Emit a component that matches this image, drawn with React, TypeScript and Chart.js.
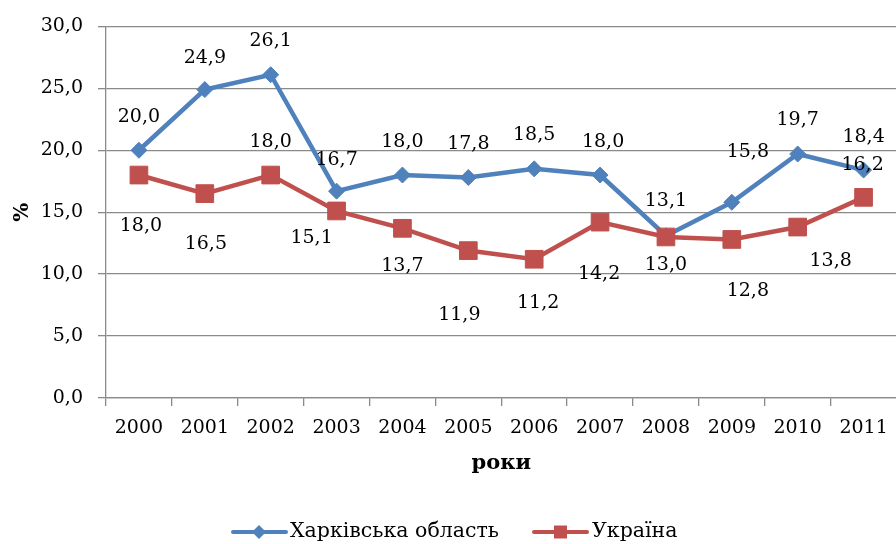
import React, { useEffect, useRef } from 'react';
import { Chart, registerables } from 'chart.js';

Chart.register(...registerables);

// ---- data ----
const years = ['2000', '2001', '2002', '2003', '2004', '2005', '2006', '2007', '2008', '2009', '2010', '2011'];
const kharkivValues = [20.0, 24.9, 26.1, 16.7, 18.0, 17.8, 18.5, 18.0, 13.1, 15.8, 19.7, 18.4];
const ukraineValues = [18.0, 16.5, 18.0, 15.1, 13.7, 11.9, 11.2, 14.2, 13.0, 12.8, 13.8, 16.2];
const seriesNames = ['Харківська область', 'Україна'];
const yMin = 0;
const yMax = 30;
const yStep = 5;
const xTitle = 'роки';
const yTitle = '%';

// ---- label placement (pixel offsets from each point, style only) ----
const kharkivLabelOffsets = [[0, -33], [0, -32], [0, -34], [0, -31], [0, -33], [0, -33], [0, -34], [3, -33], [0, -35], [16, -50], [0, -34], [0, -33]];
const ukraineLabelOffsets = [[2, 51], [1, 50], [0, -33], [-25, 27], [0, 38], [-9, 64], [4, 44], [-1, 52], [0, 28], [16, 52], [33, 34], [-1, -32]];

const FONT = "'DejaVu Serif', serif";
const BLUE = '#4F81BD';
const RED = '#C0504D';
const GRID = '#8a8a8a';

const fmt = (v: number) => v.toFixed(1).replace('.', ',');

const labelPlugin = {
  id: 'pointLabels',
  afterDatasetsDraw(chart: any) {
    const ctx = chart.ctx;
    ctx.save();
    ctx.font = `19px ${FONT}`;
    ctx.fillStyle = '#000';
    ctx.textAlign = 'center';
    ctx.textBaseline = 'middle';
    chart.data.datasets.forEach((ds: any, di: number) => {
      const meta = chart.getDatasetMeta(di);
      meta.data.forEach((pt: any, i: number) => {
        const [dx, dy] = ds.labelOffsets[i];
        ctx.fillText(fmt(ds.data[i]), pt.x + dx, pt.y + dy);
      });
    });
    ctx.restore();
  },
};

const legendPlugin = {
  id: 'customLegend',
  afterDraw(chart: any) {
    const ctx = chart.ctx;
    const y = 532;
    ctx.save();
    // blue entry
    ctx.strokeStyle = BLUE;
    ctx.lineWidth = 4;
    ctx.lineCap = 'round';
    ctx.beginPath();
    ctx.moveTo(233, y);
    ctx.lineTo(286, y);
    ctx.stroke();
    ctx.fillStyle = BLUE;
    ctx.beginPath();
    ctx.moveTo(259, y - 7);
    ctx.lineTo(266, y);
    ctx.lineTo(259, y + 7);
    ctx.lineTo(252, y);
    ctx.closePath();
    ctx.fill();
    // red entry
    ctx.strokeStyle = RED;
    ctx.beginPath();
    ctx.moveTo(534, y);
    ctx.lineTo(587, y);
    ctx.stroke();
    ctx.fillStyle = RED;
    ctx.fillRect(554, y - 6.5, 13, 13);
    // texts
    ctx.fillStyle = '#000';
    ctx.font = `20.5px ${FONT}`;
    ctx.textAlign = 'left';
    ctx.textBaseline = 'middle';
    ctx.fillText(seriesNames[0], 290, y);
    ctx.fillText(seriesNames[1], 592, y);
    ctx.restore();
  },
};

export default function App() {
  const ref = useRef<HTMLCanvasElement | null>(null);

  useEffect(() => {
    if (!ref.current) return;
    Chart.defaults.font.family = FONT;
    Chart.defaults.font.size = 19;
    Chart.defaults.color = '#000';
    const chart = new Chart(ref.current, {
      type: 'line',
      data: {
        labels: years,
        datasets: [
          {
            label: seriesNames[0],
            data: kharkivValues,
            borderColor: BLUE,
            backgroundColor: BLUE,
            borderWidth: 4.5,
            pointStyle: 'rectRot',
            pointRadius: 8,
            pointBorderWidth: 1,
            pointBorderColor: BLUE,
            pointBackgroundColor: BLUE,
            tension: 0,
            order: 1,
            labelOffsets: kharkivLabelOffsets,
          } as any,
          {
            label: seriesNames[1],
            data: ukraineValues,
            borderColor: RED,
            backgroundColor: RED,
            borderWidth: 4.5,
            pointStyle: 'rect',
            pointRadius: 12.5,
            pointBorderWidth: 1,
            pointBorderColor: RED,
            pointBackgroundColor: RED,
            tension: 0,
            order: 0,
            labelOffsets: ukraineLabelOffsets,
          } as any,
        ],
      },
      options: {
        responsive: false,
        animation: false,
        layout: { padding: { left: 0, top: 23, right: 8, bottom: 0 } },
        plugins: {
          legend: { display: false },
          tooltip: { enabled: false },
        },
        scales: {
          x: {
            offset: true,
            grid: {
              display: true,
              offset: true,
              drawOnChartArea: false,
              drawTicks: true,
              tickLength: 8,
              color: GRID,
              lineWidth: 1.3,
            },
            border: { display: true, color: GRID, width: 1.3 },
            ticks: {
              autoSkip: false,
              maxRotation: 0,
              minRotation: 0,
              padding: 11,
              font: { size: 19, family: FONT },
              color: '#000',
            },
            title: {
              display: true,
              text: xTitle,
              font: { size: 21, weight: 'bold', family: FONT },
              color: '#000',
              padding: { top: 0, bottom: 68 },
            },
            afterFit(scale: any) {
              scale.height = 146;
            },
          },
          y: {
            min: yMin,
            max: yMax,
            grid: {
              color: GRID,
              lineWidth: 1.3,
              drawTicks: true,
              tickLength: 8,
            },
            border: { display: true, color: GRID, width: 1.3 },
            ticks: {
              stepSize: yStep,
              padding: 15,
              font: { size: 19, family: FONT },
              color: '#000',
              callback: (v: any) => fmt(Number(v)),
            },
            title: {
              display: true,
              text: yTitle,
              font: { size: 20, weight: 'bold', family: FONT },
              color: '#000',
              padding: { top: 11, bottom: 0 },
            },
            afterFit(scale: any) {
              scale.width = 106;
            },
          },
        },
      },
      plugins: [labelPlugin, legendPlugin],
    });
    return () => chart.destroy();
  }, []);

  return (
    <div
      style={{
        position: 'fixed',
        left: 0,
        top: 0,
        width: 896,
        height: 544,
        overflow: 'hidden',
        background: '#fff',
      }}
    >
      <canvas ref={ref} width={910} height={544} style={{ width: 910, height: 544, display: 'block' }} />
    </div>
  );
}
